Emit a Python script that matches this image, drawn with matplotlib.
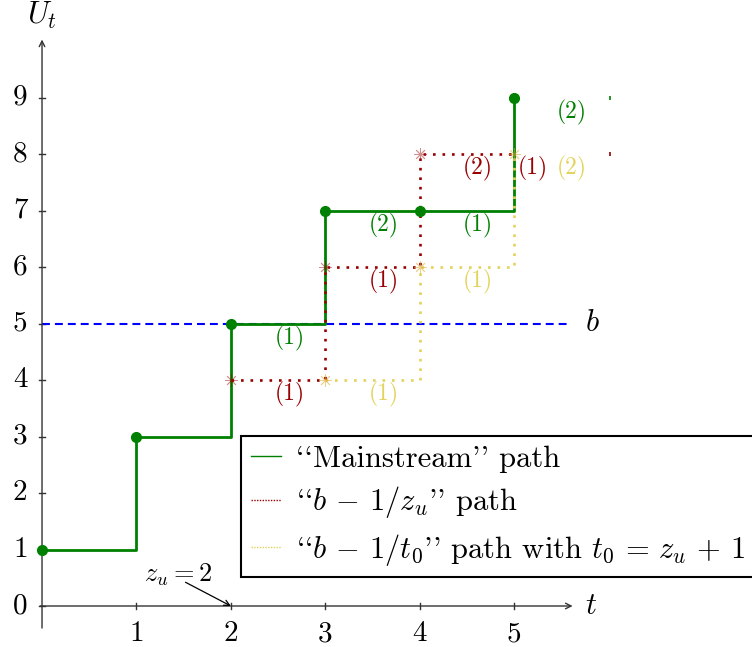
import matplotlib
matplotlib.use("Agg")
import matplotlib.pyplot as plt
from matplotlib.lines import Line2D

plt.rcParams["mathtext.fontset"] = "cm"
plt.rcParams["font.family"] = ["cmr10", "DejaVu Serif"]
plt.rcParams["axes.unicode_minus"] = False

# Step paths (t, U_t)
main_t = [0, 1, 1, 2, 2, 3, 3, 4, 5, 5]
main_u = [1, 1, 3, 3, 5, 5, 7, 7, 7, 9]
main_dot_t = [0, 1, 2, 3, 4, 5]
main_dot_u = [1, 3, 5, 7, 7, 9]

red_t = [2, 3, 3, 4, 4, 5]
red_u = [4, 4, 6, 6, 8, 8]
red_mark_t = [2, 3, 4]
red_mark_u = [4, 6, 8]

yel_t = [3, 4, 4, 5, 5]
yel_u = [4, 4, 6, 6, 8]
yel_mark_t = [3, 4, 5]
yel_mark_u = [4, 6, 8]

b_level = 5
x_ticks = [1, 2, 3, 4, 5]
y_ticks = [0, 1, 2, 3, 4, 5, 6, 7, 8, 9]

# Step labels: (t, U, text)
green_labels = [(2.62, 4.74, "(1)"), (3.62, 6.74, "(2)"), (4.62, 6.74, "(1)"), (5.61, 8.74, "(2)")]
red_labels = [(2.62, 3.74, "(1)"), (3.62, 5.74, "(1)"), (4.62, 7.74, "(2)"), (5.2, 7.74, "(1)")]
yel_labels = [(3.62, 3.74, "(1)"), (4.62, 5.74, "(1)"), (5.61, 7.74, "(2)")]

GREEN = "#008000"
RED = "#990000"
YELLOW = "#E3D35A"
BLUE = "#0000FF"
AXC = "#333333"

fig = plt.figure(figsize=(7.52, 6.47), dpi=100)
ax = fig.add_axes([0, 0, 1, 1])
ax.set_xlim(-0.445, 7.52)
ax.set_ylim(-0.726, 10.73)
ax.axis("off")

# Axes with arrows
ax.annotate("", xy=(5.62, 0), xytext=(-0.02, 0),
            arrowprops=dict(arrowstyle="->", color=AXC, lw=1.0, shrinkA=0, shrinkB=0))
ax.annotate("", xy=(0, 10.03), xytext=(0, -0.39),
            arrowprops=dict(arrowstyle="->", color=AXC, lw=1.0, shrinkA=0, shrinkB=0))
ax.text(5.82, 0, r"$t$", fontsize=22, ha="center", va="center")
ax.text(0.0, 10.46, r"$U_t$", fontsize=22, ha="center", va="center")

for t in x_ticks:
    ax.plot([t, t], [-0.06, 0.06], color=AXC, lw=1.0)
    ax.text(t, -0.5, str(t), fontsize=21, ha="center", va="center")
for u in y_ticks:
    ax.plot([-0.035, 0.035], [u, u], color=AXC, lw=1.0)
    ax.text(-0.23, u, str(u), fontsize=21, ha="center", va="center")

# Threshold b
ax.plot([0, 5.6], [b_level, b_level], color=BLUE, lw=1.5, linestyle=(0, (3.8, 2.4)))
ax.text(5.83, b_level, r"$b$", fontsize=22, ha="center", va="center")

# Paths
ax.plot(yel_t, yel_u, color=YELLOW, lw=1.9, linestyle=(0, (1, 2.6)), zorder=3)
ax.plot(red_t, red_u, color=RED, lw=1.9, linestyle=(0, (1, 2.6)), zorder=4)
ax.plot(main_t, main_u, color=GREEN, lw=2.0, zorder=2)
ax.plot(main_dot_t, main_dot_u, "o", color=GREEN, ms=7, zorder=5)
ax.plot(red_mark_t, red_mark_u, marker=(8, 2, 0), ls="none", color=RED, ms=9, mew=0.6, alpha=0.45, zorder=6)
ax.plot(yel_mark_t, yel_mark_u, marker=(8, 2, 0), ls="none", color="#D9A830", ms=9, mew=0.6, alpha=0.55, zorder=6)

# Clipped ends of the continuing paths
ax.plot([6.02], [9], marker="|", color=GREEN, ms=3, mew=1.2)
ax.plot([6.02], [8], marker="|", color=RED, ms=3, mew=1.2)

for x, y, s in green_labels:
    ax.text(x, y, s, color=GREEN, fontsize=17, ha="center", va="center")
for x, y, s in red_labels:
    ax.text(x, y, s, color=RED, fontsize=17, ha="center", va="center")
for x, y, s in yel_labels:
    ax.text(x, y, s, color=YELLOW, fontsize=17, ha="center", va="center")

# z_u annotation
ax.text(1.44, 0.56, r"$z_u = 2$", fontsize=19, ha="center", va="center")
ax.annotate("", xy=(2, 0), xytext=(1.52, 0.42),
            arrowprops=dict(arrowstyle="->", color="black", lw=0.9,
                            shrinkA=0, shrinkB=0))

handles = [
    Line2D([], [], color=GREEN, lw=1.0),
    Line2D([], [], color=RED, lw=1.0, linestyle=(0, (1, 1))),
    Line2D([], [], color=YELLOW, lw=1.0, linestyle=(0, (1, 1))),
]
labels = [
    "``Mainstream'' path",
    r"``$b\,-\,1/z_u$'' path",
    r"``$b\,-\,1/t_0$'' path with $t_0\,=\,z_u\,+\,1$",
]
leg = ax.legend(handles, labels, loc="upper left", bbox_to_anchor=(0.321, 0.326),
                fontsize=22, frameon=True, fancybox=False, framealpha=1,
                edgecolor="black", handlelength=1.0, handletextpad=0.5,
                borderpad=0.3, labelspacing=0.38, borderaxespad=0)
leg.get_frame().set_linewidth(1.5)

fig.savefig("out.png", dpi=100)
